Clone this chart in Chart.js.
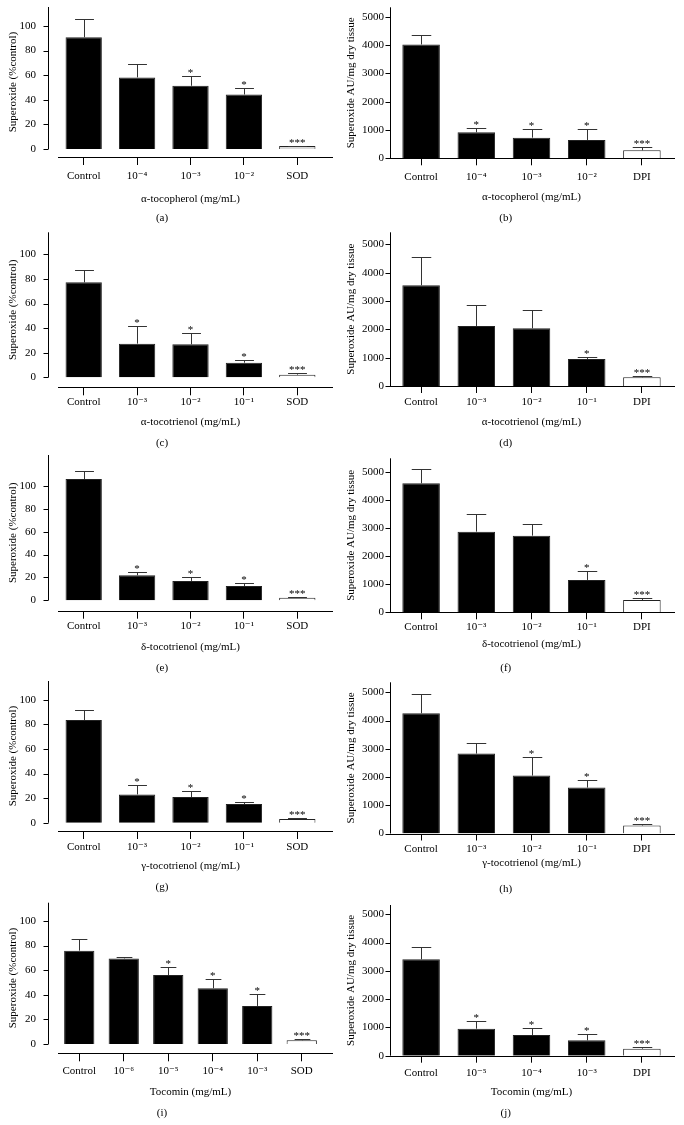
<!DOCTYPE html>
<html>
<head>
<meta charset="utf-8">
<script src="https://cdn.jsdelivr.net/npm/chart.js@4.4.0/dist/chart.umd.min.js"></script>
<style>
  body { margin: 0; background: #fff; }
  #page { position: relative; width: 684px; height: 1125px; overflow: hidden; background: #fff; }
  #page canvas { position: absolute; }
</style>
</head>
<body>
<div id="page"></div>
<script>
// --- data (mean, upper error, significance marks) ---
const labelsA = ['Control', '10⁻⁴', '10⁻³', '10⁻²', 'SOD'];
const valuesA = [90.8, 58.2, 51.4, 44.3, 2.4];
const errorsA = [14.9, 10.8, 7.6, 5.2, 0.4];
const starsA = ['', '', '*', '*', '***'];

const labelsB = ['Control', '10⁻⁴', '10⁻³', '10⁻²', 'DPI'];
const valuesB = [4020, 918, 729, 647, 282];
const errorsB = [345, 164, 318, 377, 130];
const starsB = ['', '*', '*', '*', '***'];

const labelsC = ['Control', '10⁻³', '10⁻²', '10⁻¹', 'SOD'];
const valuesC = [77.2, 27.4, 26.8, 11.9, 2.2];
const errorsC = [10.3, 14.1, 9.0, 2.5, 1.1];
const starsC = ['', '*', '*', '*', '***'];

const labelsD = ['Control', '10⁻³', '10⁻²', '10⁻¹', 'DPI'];
const valuesD = [3553, 2118, 2035, 953, 306];
const errorsD = [1012, 729, 635, 82, 59];
const starsD = ['', '', '', '*', '***'];

const labelsE = ['Control', '10⁻³', '10⁻²', '10⁻¹', 'SOD'];
const valuesE = [106, 21.9, 16.9, 12.5, 2.3];
const errorsE = [7, 3.1, 3.2, 2.4, 0.9];
const starsE = ['', '*', '*', '*', '***'];

const labelsF = ['Control', '10⁻³', '10⁻²', '10⁻¹', 'DPI'];
const valuesF = [4607, 2881, 2738, 1155, 440];
const errorsF = [524, 619, 405, 333, 72];
const starsF = ['', '', '', '*', '***'];

const labelsG = ['Control', '10⁻³', '10⁻²', '10⁻¹', 'SOD'];
const valuesG = [83.5, 23.0, 20.9, 15.2, 3.0];
const errorsG = [7.8, 7.6, 5.1, 1.9, 0.8];
const starsG = ['', '*', '*', '*', '***'];

const labelsH = ['Control', '10⁻³', '10⁻²', '10⁻¹', 'DPI'];
const valuesH = [4257, 2830, 2052, 1627, 283];
const errorsH = [684, 389, 648, 283, 71];
const starsH = ['', '', '*', '*', '***'];

const labelsI = ['Control', '10⁻⁶', '10⁻⁵', '10⁻⁴', '10⁻³', 'SOD'];
const valuesI = [75.9, 69.6, 56.1, 45.3, 30.9, 3.0];
const errorsI = [9.5, 1.4, 6.5, 7.8, 10.0, 0.8];
const starsI = ['', '', '*', '*', '*', '***'];

const labelsJ = ['Control', '10⁻⁵', '10⁻⁴', '10⁻³', 'DPI'];
const valuesJ = [3408, 955, 731, 542, 248];
const errorsJ = [425, 260, 248, 225, 70];
const starsJ = ['', '*', '*', '*', '***'];

// y tick labels
const percentTicks = [0, 20, 40, 60, 80, 100];
const tissueTicks = [0, 1000, 2000, 3000, 4000, 5000];

const percentTitle = 'Superoxide (%control)';
const tissueTitle = 'Superoxide AU/mg dry tissue';

const FONT = "'Liberation Serif', 'DejaVu Serif', serif";
Chart.defaults.font.family = FONT;
Chart.defaults.font.size = 11;
Chart.defaults.color = '#000';

// column geometry (page px)
const cols = [
  { x: 0, left: 57, right: 324, gap: 9, xStart: 58, xEnd: 333, tick: 8, yPad: 21, yTitlePad: 6.4 },
  { x: 342, left: 51.5, right: 327.5, gap: 3.3, xStart: 48, xEnd: 333, tick: 7, yPad: 9.5, yTitlePad: 2.4 }
];

// error bars + asterisks
const errorBars = {
  id: 'errorBars',
  afterDatasetsDraw(chart) {
    const ctx = chart.ctx, y = chart.scales.y;
    const ds = chart.data.datasets[0];
    const meta = chart.getDatasetMeta(0);
    ctx.save();
    ctx.strokeStyle = '#333';
    ctx.lineWidth = 1;
    ctx.fillStyle = '#000';
    ctx.font = '11px ' + FONT;
    ctx.textAlign = 'center';
    ctx.textBaseline = 'alphabetic';
    meta.data.forEach((bar, i) => {
      const v = ds.data[i];
      const y0 = y.getPixelForValue(v);
      const y1 = Math.round(y.getPixelForValue(v + ds.errors[i])) + 0.5;
      const x = Math.round(bar.x) + 0.5;
      const cap = bar.width * 0.52;
      ctx.beginPath();
      ctx.moveTo(x, y0);
      ctx.lineTo(x, y1);
      ctx.moveTo(x - cap / 2, y1);
      ctx.lineTo(x + cap / 2, y1);
      ctx.stroke();
      if (ds.stars[i]) ctx.fillText(ds.stars[i], bar.x, y1 - 0.5);
    });
    ctx.restore();
  }
};

// Prism-style detached axes
const prismAxes = {
  id: 'prismAxes',
  afterDraw(chart, args, o) {
    const { ctx, chartArea: a } = chart;
    const y = chart.scales.y;
    const ax = Math.round(a.left - o.gap) + 0.5;
    const zero = y.getPixelForValue(0);
    const bottom = Math.round(a.bottom) + 0.5;
    ctx.save();
    ctx.strokeStyle = '#000';
    ctx.lineWidth = 1;
    ctx.beginPath();
    ctx.moveTo(ax, a.top);
    ctx.lineTo(ax, zero);
    o.ticks.forEach(t => {
      const p = Math.round(y.getPixelForValue(t)) + 0.5;
      ctx.moveTo(ax - 5, p);
      ctx.lineTo(ax, p);
    });
    ctx.moveTo(o.xStart, bottom);
    ctx.lineTo(o.xEnd, bottom);
    ctx.stroke();
    ctx.restore();
  }
};

function makePanel(p) {
  const c = cols[p.col];
  const H = Math.ceil(p.letterY - p.rowTop + 10);
  const rel = v => v - p.rowTop;
  const letterPad = H - rel(p.letterY) - 6.6;
  const xBottom = H - 13.2 - letterPad;
  const xHeight = xBottom - rel(p.xAxis);
  const tickPad = rel(p.catY) - rel(p.xAxis) - c.tick - 6.6;
  const titlePad = xBottom - rel(p.titleY) - 6.6;

  const canvas = document.createElement('canvas');
  canvas.width = 342;
  canvas.height = H;
  canvas.style.left = c.x + 'px';
  canvas.style.top = p.rowTop + 'px';
  canvas.style.width = '342px';
  canvas.style.height = H + 'px';
  document.getElementById('page').appendChild(canvas);

  const n = p.values.length;
  const fills = p.values.map((v, i) => i === n - 1 ? p.lastFill : '#000');

  new Chart(canvas, {
    type: 'bar',
    data: {
      labels: p.labels,
      datasets: [{
        data: p.values,
        errors: p.errors,
        stars: p.stars,
        backgroundColor: fills,
        borderColor: '#222',
        borderWidth: 1,
        categoryPercentage: 1,
        barPercentage: 0.68
      }]
    },
    options: {
      responsive: false,
      animation: false,
      layout: { padding: { top: rel(p.areaTop), right: 342 - c.right, left: 0, bottom: 0 } },
      scales: {
        x: {
          afterFit: s => { s.height = xHeight; s.paddingLeft = 0; s.paddingRight = 0; },
          border: { display: false },
          grid: { display: true, drawOnChartArea: false, drawTicks: true, tickLength: c.tick, offset: false, color: '#000' },
          ticks: { autoSkip: false, maxRotation: 0, padding: tickPad, color: '#000', font: { size: 11 } },
          title: { display: true, text: p.xTitle, color: '#000', font: { size: 11 }, padding: { top: 0, bottom: titlePad } }
        },
        y: {
          min: p.yMin,
          max: p.yMax,
          border: { display: false },
          grid: { display: false, drawTicks: false },
          afterBuildTicks: s => { s.ticks = p.ticks.map(v => ({ value: v })); },
          afterFit: s => { s.width = c.left; s.paddingTop = 0; s.paddingBottom = 0; },
          ticks: { padding: c.yPad, color: '#000', font: { size: 11 }, callback: v => String(v) },
          title: { display: true, text: p.yTitle, color: '#000', font: { size: 11 }, padding: { top: c.yTitlePad, bottom: 0 } }
        }
      },
      plugins: {
        legend: { display: false },
        tooltip: { enabled: false },
        title: { display: true, text: p.letter, position: 'bottom', color: '#000', font: { size: 11, weight: 'normal' }, padding: { top: 0, bottom: letterPad } },
        prismAxes: { gap: c.gap, xStart: c.xStart, xEnd: c.xEnd, ticks: p.ticks }
      }
    },
    plugins: [errorBars, prismAxes]
  });
}

const panels = [
  { col: 0, rowTop: 0, areaTop: 7, xAxis: 157, catY: 176, titleY: 199, letterY: 218, yMin: -6.5, yMax: 115.4, ticks: percentTicks,
    labels: labelsA, values: valuesA, errors: errorsA, stars: starsA, lastFill: '#d9d9d9',
    xTitle: 'α-tocopherol (mg/mL)', yTitle: percentTitle, letter: '(a)' },
  { col: 1, rowTop: 0, areaTop: 7.3, xAxis: 158.3, catY: 177, titleY: 197, letterY: 218, yMin: 0, yMax: 5332, ticks: tissueTicks,
    labels: labelsB, values: valuesB, errors: errorsB, stars: starsB, lastFill: '#fff',
    xTitle: 'α-tocopherol (mg/mL)', yTitle: tissueTitle, letter: '(b)' },
  { col: 0, rowTop: 225, areaTop: 232.3, xAxis: 387.3, catY: 401.7, titleY: 422, letterY: 443, yMin: -8.1, yMax: 117.9, ticks: percentTicks,
    labels: labelsC, values: valuesC, errors: errorsC, stars: starsC, lastFill: '#fff',
    xTitle: 'α-tocotrienol (mg/mL)', yTitle: percentTitle, letter: '(c)' },
  { col: 1, rowTop: 225, areaTop: 232.3, xAxis: 386, catY: 402, titleY: 422, letterY: 443, yMin: 0, yMax: 5423, ticks: tissueTicks,
    labels: labelsD, values: valuesD, errors: errorsD, stars: starsD, lastFill: '#fff',
    xTitle: 'α-tocotrienol (mg/mL)', yTitle: tissueTitle, letter: '(d)' },
  { col: 0, rowTop: 440, areaTop: 455, xAxis: 610.7, catY: 626, titleY: 646.7, letterY: 668, yMin: -9.1, yMax: 127, ticks: percentTicks,
    labels: labelsE, values: valuesE, errors: errorsE, stars: starsE, lastFill: '#fff',
    xTitle: 'δ-tocotrienol (mg/mL)', yTitle: percentTitle, letter: '(e)' },
  { col: 1, rowTop: 440, areaTop: 458.3, xAxis: 612.3, catY: 627, titleY: 644, letterY: 668, yMin: 0, yMax: 5500, ticks: tissueTicks,
    labels: labelsF, values: valuesF, errors: errorsF, stars: starsF, lastFill: '#fff',
    xTitle: 'δ-tocotrienol (mg/mL)', yTitle: tissueTitle, letter: '(f)' },
  { col: 0, rowTop: 665, areaTop: 681, xAxis: 831, catY: 846.7, titleY: 865.7, letterY: 886.7, yMin: -6.7, yMax: 115.2, ticks: percentTicks,
    labels: labelsG, values: valuesG, errors: errorsG, stars: starsG, lastFill: '#fff',
    xTitle: 'γ-tocotrienol (mg/mL)', yTitle: percentTitle, letter: '(g)' },
  { col: 1, rowTop: 665, areaTop: 682.3, xAxis: 833.5, catY: 849, titleY: 863.3, letterY: 889, yMin: 0, yMax: 5354, ticks: tissueTicks,
    labels: labelsH, values: valuesH, errors: errorsH, stars: starsH, lastFill: '#fff',
    xTitle: 'γ-tocotrienol (mg/mL)', yTitle: tissueTitle, letter: '(h)' },
  { col: 0, rowTop: 890, areaTop: 902.7, xAxis: 1053.3, catY: 1071, titleY: 1091.7, letterY: 1112.7, yMin: -7.6, yMax: 114.9, ticks: percentTicks,
    labels: labelsI, values: valuesI, errors: errorsI, stars: starsI, lastFill: '#fff',
    xTitle: 'Tocomin (mg/mL)', yTitle: percentTitle, letter: '(i)' },
  { col: 1, rowTop: 890, areaTop: 905, xAxis: 1055.7, catY: 1072.7, titleY: 1091.7, letterY: 1112.7, yMin: 0, yMax: 5329, ticks: tissueTicks,
    labels: labelsJ, values: valuesJ, errors: errorsJ, stars: starsJ, lastFill: '#fff',
    xTitle: 'Tocomin (mg/mL)', yTitle: tissueTitle, letter: '(j)' }
];

panels.forEach(makePanel);
</script>
</body>
</html>
